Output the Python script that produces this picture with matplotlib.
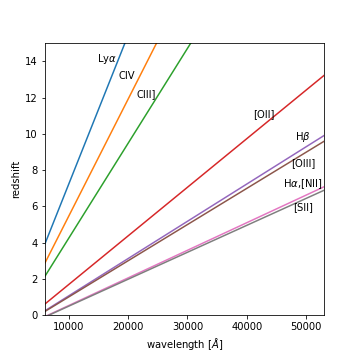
import numpy as np
import matplotlib
matplotlib.use("Agg")
import matplotlib.pyplot as plt

line_names = ["Lyα", "CIV", "CIII]", "[OII]", "Hβ", "[OIII]", "Hα", "[SII]"]
rest_wavelengths = [1216, 1549, 1909, 3727, 4861, 5007, 6563, 6724]
label_texts = [r"Ly$\alpha$", "CIV", "CIII]", "[OII]", r"H$\beta$", "[OIII]", r"H$\alpha$,[NII]", "[SII]"]
label_x = [16400, 19700, 23000, 42900, 49400, 49500, 49500, 49400]
label_y = [14.15, 13.2, 12.2, 11.1, 9.8, 8.4, 7.2, 5.95]

wl = np.linspace(6000, 53000, 200)

fig = plt.figure(figsize=(5, 5), dpi=72)
ax = fig.add_axes([0.125, 0.125, 0.775, 0.755])
for lam in rest_wavelengths:
    ax.plot(wl, wl / lam - 1)
for t, x, y in zip(label_texts, label_x, label_y):
    ax.text(x, y, t, ha="center", va="center", fontsize=10)
ax.set_xlim(6000, 53000)
ax.set_ylim(0, 15)
ax.set_xlabel(r"wavelength [$\AA$]")
ax.set_ylabel("redshift")
fig.savefig("out.png", dpi=72)
